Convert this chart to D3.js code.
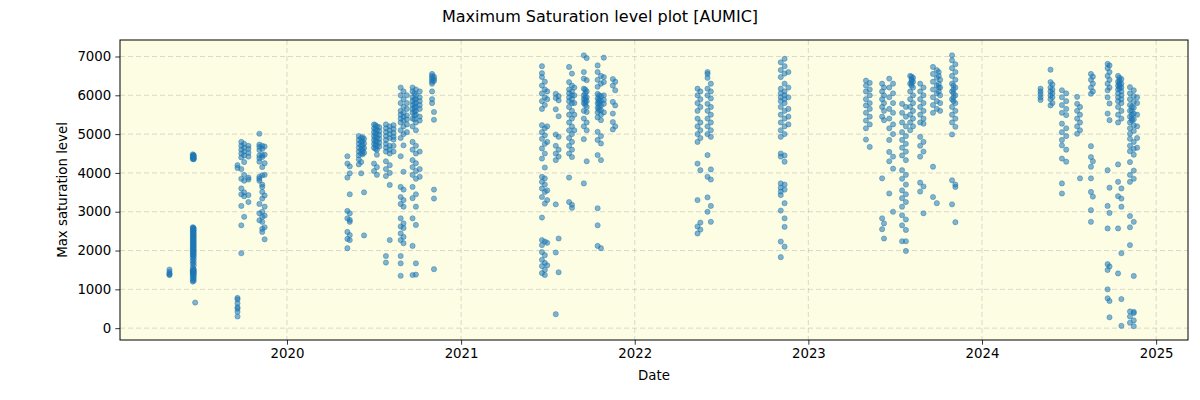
<!DOCTYPE html>
<html><head><meta charset="utf-8">
<script src="https://cdn.jsdelivr.net/npm/d3@7"></script>
<style>body{margin:0;background:#fff} svg{display:block} text{font-family:"DejaVu Sans",sans-serif;fill:#000}</style>
</head><body><svg id="c" width="1200" height="400"></svg>
<script>
// ---- data: [observation date, max saturation levels] ----
const season2019 = [
  ["2019-04-29", [1510, 1450, 1410, 1380, 1370]],
  ["2019-06-17", [4360, 4400, 4440, 4480, 2600, 2540, 2480, 2420, 2360, 2300, 2240, 2180, 2120, 2060, 2000, 1940, 1880, 1820, 1740, 1660, 1560, 1490, 1450, 1410, 1370, 1310, 1250, 1200]],
  ["2019-06-18", [4410, 4450, 4370, 2590, 2550, 2500, 2440, 2380, 2320, 2260, 2200, 2140, 2080, 2020, 1960, 1900, 1470, 1440, 1420, 1460, 1500]],
  ["2019-06-19", [4380, 4420, 4460, 4350, 2570, 2510, 2450, 2390, 2330, 2270, 2210, 2150, 2090, 2030, 1970, 1910, 1850, 1780, 1700, 1620, 1520, 1470, 1430, 1390, 1340, 1280, 1220]],
  ["2019-06-22", [660]],
  ["2019-09-19", [780, 740, 640, 540, 500, 420, 300, 4200, 4130]],
  ["2019-09-27", [4800, 4700, 4600, 4500, 4400, 4100, 3850, 3600, 3450, 3150, 2650, 1930]],
  ["2019-10-03", [4750, 4650, 4550, 4450, 4280, 3950, 3800, 3500, 3400, 2870]],
  ["2019-10-12", [4700, 4620, 4520, 4420, 3880, 3830, 3250, 3430]],
  ["2019-11-04", [5010, 4730, 4670, 4590, 4450, 4380, 4290, 3900, 3850, 3800, 3200, 2960, 2780]],
  ["2019-11-10", [4700, 4620, 4460, 4410, 4150, 3940, 3700, 3640, 3510, 3340, 3000, 2870, 2740, 2560, 2480]],
  ["2019-11-15", [4680, 4470, 4250, 3950, 3420, 3130, 2900, 2600, 2290]]
];
const season2020 = [
  ["2020-05-07", [4430, 4240, 3880, 3020, 2830, 2480, 2300, 2060]],
  ["2020-05-12", [4170, 3990, 3450, 2960, 2790, 2740, 2400, 2270]],
  ["2020-05-31", [4950, 4850, 4750, 4650, 4550, 4450, 4350, 4220]],
  ["2020-06-05", [4900, 4800, 4700, 4600, 4500, 4280, 3990]],
  ["2020-06-08", [4920, 4820, 4720, 4620, 4560, 4480]],
  ["2020-06-11", [4880, 4760, 4640, 4520, 3500, 2390]],
  ["2020-07-02", [5250, 5150, 5050, 4950, 4850, 4750, 4650, 4240, 4050]],
  ["2020-07-05", [5230, 5130, 5020, 4920, 4820, 4720, 4620]],
  ["2020-07-08", [5200, 5100, 5000, 4900, 4800, 4700, 4600, 4470, 4150, 3950]],
  ["2020-07-13", [5180, 5080, 4980, 4880, 4780, 4680]],
  ["2020-07-27", [5250, 5150, 5050, 4950, 4850, 4750, 4650, 4550, 4300, 4100, 3920, 1860, 1690]],
  ["2020-08-04", [5200, 5100, 5000, 4900, 4700, 4600, 4500, 4200, 4000, 3690, 2270]],
  ["2020-08-12", [5230, 5130, 5030, 4930, 4860, 4700, 4550]],
  ["2020-08-27", [6200, 6000, 5800, 5600, 5500, 5400, 5300, 5100, 4900, 4430, 3640, 3380, 3200, 2830, 2620, 2440, 2270, 1860, 1670, 1350]],
  ["2020-09-02", [6100, 5900, 5700, 5550, 5450, 5350, 5200, 5000, 4710, 4030, 3570, 3300, 3130, 2700, 2580, 2350, 2190]],
  ["2020-09-09", [6000, 5800, 5650, 5480, 5380, 5250, 5050]],
  ["2020-09-21", [6200, 6100, 5950, 5850, 5750, 5650, 5550, 5400, 5200, 4800, 4600, 4330, 4150, 3950, 3640, 3350, 2830, 2120, 1370]],
  ["2020-09-25", [6050, 5900, 5780, 5680, 5580, 5480, 5380]],
  ["2020-09-28", [6150, 6000, 5900, 5800, 5700, 5600, 5500, 5300, 5100, 4700, 4500, 4250, 4050, 3850, 3450, 3130, 2660, 1670, 1380]],
  ["2020-10-06", [6100, 5950, 5850, 5750, 5650, 5450, 5350, 4550, 4100, 3900]],
  ["2020-11-01", [6550, 6500, 6450, 6400, 6350, 6300, 6100, 5900, 5800]],
  ["2020-11-05", [6480, 6420, 6370, 5570, 5370, 3570, 3340, 1520]]
];
const season2021 = [
  ["2021-06-20", [6750, 6570, 6470, 6250, 6050, 5850, 5650, 5230, 5050, 4880, 4630, 4370, 3900, 3770, 3600, 3380, 2850, 2270, 2140, 1960, 1760, 1600, 1420]],
  ["2021-06-26", [6350, 6150, 5950, 5750, 5150, 4970, 4750, 4500, 4140, 3860, 3700, 3510, 3210, 2230, 1880, 1680, 1500, 1370]],
  ["2021-07-01", [6100, 5900, 5200, 4800, 3550, 3300, 1620, 2200]],
  ["2021-07-19", [6040, 5930, 5640, 4990, 4700, 4500, 4330, 3190, 1950, 360]],
  ["2021-07-25", [5980, 5870, 5460, 4930, 4600, 4420, 2310, 1440]],
  ["2021-08-16", [6730, 6340, 6150, 6050, 5950, 5850, 5700, 5500, 5300, 5100, 4900, 4700, 4500, 3880, 3250]],
  ["2021-08-22", [6560, 6250, 6100, 6000, 5900, 5800, 5600, 5400, 5200, 5000, 4800, 4600, 4410, 3180, 3100]],
  ["2021-08-27", [6200, 6000, 5800, 5500, 5100]],
  ["2021-09-16", [7030, 6600, 6430, 6170, 6000, 5900, 5800, 5600, 5400, 5200, 4870, 3730]],
  ["2021-09-19", [6150, 6050, 5950, 5880, 5820, 5750]],
  ["2021-09-22", [6960, 6390, 6100, 5950, 5850, 5700, 5570, 5300, 5100, 4300]],
  ["2021-10-15", [6770, 6600, 6400, 6220, 6040, 5920, 5800, 5680, 5560, 5430, 5060, 4850, 4460, 3090, 2650, 2120]],
  ["2021-10-18", [6000, 5900, 5850, 5780, 5700, 5620]],
  ["2021-10-22", [6500, 6300, 5980, 5860, 5740, 5620, 5500, 5360, 4950, 4760, 4330, 2060]],
  ["2021-10-28", [6970, 6470, 6340, 6000, 5880, 5780, 5560]],
  ["2021-11-16", [6420, 6250, 5830, 5530, 5310, 5120]],
  ["2021-11-21", [6350, 6130, 5740, 5200]]
];
const season2022 = [
  ["2022-05-13", [6170, 6000, 5800, 5600, 5400, 5200, 5000, 4800, 4240, 3300, 2620, 2440]],
  ["2022-05-19", [6100, 5900, 5700, 5300, 5100, 4900, 4070, 2720, 2540]],
  ["2022-06-03", [6600, 6550, 6450, 6170, 6000, 5780, 5600, 5400, 5200, 5000, 4460, 3900, 3370, 3000]],
  ["2022-06-10", [6300, 6100, 5920, 5700, 5500, 5300, 5100, 4930, 4090, 3830, 3150, 2740]],
  ["2022-11-04", [6850, 6650, 6470, 6170, 6050, 5950, 5850, 5700, 5500, 5300, 5100, 4930, 4500, 4420, 3730, 3620, 3520, 3430, 3030, 2230, 1830]],
  ["2022-11-12", [6940, 6750, 6560, 6300, 6100, 6000, 5900, 5800, 5600, 5400, 5200, 5000, 4450, 4290, 3700, 3570, 3220, 2830, 2610, 2100]],
  ["2022-11-20", [6600, 6200, 5950, 5650, 5450, 5250]]
];
const season2023 = [
  ["2023-05-02", [6380, 6250, 6100, 5900, 5740, 5550, 5350, 5150, 4860]],
  ["2023-05-10", [6320, 6150, 6000, 5800, 5650, 5450, 5250, 4670]],
  ["2023-06-05", [6300, 6100, 5900, 5700, 5450, 3860, 2830, 2550]],
  ["2023-06-09", [6200, 6000, 5800, 5600, 5360, 2700, 2310]],
  ["2023-06-20", [6430, 6200, 5950, 5650, 5400, 5150, 4850, 4540, 4300, 3470]],
  ["2023-06-28", [6300, 6050, 5800, 5550, 5250, 5000, 4420, 4110, 3000]],
  ["2023-07-17", [5780, 5550, 5300, 5050, 4850, 4650, 4450, 4070, 3850, 3550, 3350, 3130, 2910, 2650, 2240]],
  ["2023-07-25", [5700, 5450, 5200, 4950, 4750, 4550, 4330, 3950, 3700, 3450, 3250, 2800, 2530, 1990, 2240]],
  ["2023-08-03", [6500, 6300, 6100, 5900, 5700, 5500, 5300, 5100]],
  ["2023-08-06", [6480, 6420, 6380, 6320, 6250]],
  ["2023-08-09", [6450, 6350, 6200, 6000, 5800, 5600, 5400, 5200]],
  ["2023-08-24", [6300, 6100, 5900, 5700, 5500, 5300, 4930, 4700, 4420, 3750, 3520]],
  ["2023-08-31", [6200, 6000, 5800, 5600, 5400, 5270, 4800, 4550, 3650, 2960]],
  ["2023-09-20", [6730, 6550, 6350, 6150, 5950, 5750, 5550, 4160, 3380]],
  ["2023-09-28", [6650, 6450, 6250, 6050, 5850, 5650, 3220]],
  ["2023-10-02", [6600, 6500, 6300, 6200, 6100]],
  ["2023-10-05", [6400, 6200, 6000, 5800, 5600]],
  ["2023-10-30", [7030, 6900, 6700, 6500, 6300, 6100, 5900, 5700, 5500, 5300, 4990, 3810, 3190]],
  ["2023-11-02", [6250, 6150, 6050, 5950, 5850]],
  ["2023-11-06", [6800, 6600, 6400, 6200, 6000, 5800, 5600, 5400, 5190, 3700, 3640, 2730]]
];
const season2024 = [
  ["2024-05-03", [6170, 6100, 6030, 5950, 5880]],
  ["2024-05-24", [6660, 6340, 6200, 6100, 6000, 5900, 5740]],
  ["2024-05-28", [6280, 6150, 6050, 5950, 5800]],
  ["2024-06-17", [6130, 5950, 5750, 5550, 5270, 5050, 4850, 4710, 4370, 3730, 3470]],
  ["2024-06-26", [6050, 5850, 5650, 5490, 5150, 4950, 4600, 4290]],
  ["2024-07-19", [5960, 5780, 5600, 5400, 5200, 5010]],
  ["2024-07-25", [5700, 5500, 5300, 5100, 3860]],
  ["2024-08-17", [6550, 6400, 6200, 6040, 4690, 4410, 4160, 3860, 3510, 3040, 2740]],
  ["2024-08-21", [6480, 6300, 6100, 4300, 3390]],
  ["2024-09-21", [6810, 6700, 6500, 6300, 6130, 5950, 5530, 4070, 3150, 2570, 1650, 1500, 1000, 770]],
  ["2024-09-25", [6770, 6600, 6400, 6200, 5790, 5360, 3620, 2970, 1590, 700, 280]],
  ["2024-10-13", [6500, 6350, 6250, 6150, 6050, 5950, 5850, 5700, 5500, 5300, 4220, 3770, 3400, 2570, 1410]],
  ["2024-10-16", [6450, 6380, 6320, 6270, 6220, 6180]],
  ["2024-10-20", [6420, 6300, 6200, 6100, 6000, 5900, 5800, 5600, 5400, 3600, 3340, 3130, 1930, 750, 60]],
  ["2024-11-07", [6210, 6050, 5900, 5750, 5600, 5450, 5300, 5150, 5010, 4880, 4700, 4560, 4280, 3950, 3770, 2890, 2600, 2140, 430, 300, 140]],
  ["2024-11-11", [5700, 5600, 5500, 5400, 5350]],
  ["2024-11-15", [6130, 5980, 5830, 5680, 5530, 5380, 5230, 5080, 4800, 4620, 4470, 4060, 3850, 2740, 1345, 420, 390, 200, 50]],
  ["2024-11-22", [5950, 5800, 5500, 5200, 4900, 4650]]
];
const xTickDates = ["2020-01-01", "2021-01-01", "2022-01-01", "2023-01-01", "2024-01-01", "2025-01-01"];
const yTickValues = [0, 1000, 2000, 3000, 4000, 5000, 6000, 7000];
const titleText = "Maximum Saturation level plot [AUMIC]";
const xLabel = "Date";
const yLabel = "Max saturation level";

// ---- chart ----
const parse = d3.utcParse("%Y-%m-%d");
const seasons = [season2019, season2020, season2021, season2022, season2023, season2024];
const points = seasons.flatMap(s => s.flatMap(([d, vals]) => vals.map(v => ({date: parse(d), value: v}))));

const L = 120, R = 1188, T = 40, B = 340;
const x = d3.scaleUtc().domain([parse("2019-01-15"), parse("2025-03-09")]).range([L, R]);
const y = d3.scaleLinear().domain([-305, 7425]).range([B, T]);

const svg = d3.select("#c");
svg.append("rect").attr("width", 1200).attr("height", 400).attr("fill", "#fff");
svg.append("rect").attr("x", L).attr("y", T).attr("width", R - L).attr("height", B - T).attr("fill", "#fdfde3");

const xt = xTickDates.map(parse);
const grid = svg.append("g").attr("stroke", "#b0b0b0").attr("stroke-opacity", 0.6)
  .attr("stroke-width", 0.8).attr("stroke-dasharray", "5,3");
grid.selectAll("line.gx").data(xt).join("line").attr("class", "gx")
  .attr("x1", d => x(d)).attr("x2", d => x(d)).attr("y1", T).attr("y2", B);
grid.selectAll("line.gy").data(yTickValues).join("line").attr("class", "gy")
  .attr("x1", L).attr("x2", R).attr("y1", d => y(d)).attr("y2", d => y(d));

svg.append("g").selectAll("circle").data(points).join("circle")
  .attr("cx", d => x(d.date)).attr("cy", d => y(d.value)).attr("r", 2.6)
  .attr("fill", "#1f77b4").attr("fill-opacity", 0.55)
  .attr("stroke", "#1f77b4").attr("stroke-opacity", 0.55).attr("stroke-width", 0.8);

svg.append("rect").attr("x", L).attr("y", T).attr("width", R - L).attr("height", B - T)
  .attr("fill", "none").attr("stroke", "#000").attr("stroke-width", 1);

const fs = "13.33px";
const xAxis = svg.append("g").attr("transform", `translate(0,${B})`)
  .call(d3.axisBottom(x).tickValues(xt).tickFormat(d3.utcFormat("%Y")).tickSize(4.7).tickSizeOuter(0).tickPadding(4));
const yAxis = svg.append("g").attr("transform", `translate(${L},0)`)
  .call(d3.axisLeft(y).tickValues(yTickValues).tickFormat(d3.format("d")).tickSize(4.7).tickSizeOuter(0).tickPadding(4));
[xAxis, yAxis].forEach(a => {
  a.select(".domain").remove();
  a.selectAll("text").attr("font-family", "DejaVu Sans").attr("font-size", fs).attr("fill", "#000");
  a.selectAll("line").attr("stroke", "#000").attr("stroke-width", 0.8);
});

svg.append("text").attr("x", 600).attr("y", 22).attr("text-anchor", "middle")
  .attr("font-size", "16px").text(titleText);
svg.append("text").attr("x", (L + R) / 2).attr("y", 380).attr("text-anchor", "middle")
  .attr("font-size", fs).text(xLabel);
svg.append("text").attr("transform", `translate(67,${(T + B) / 2}) rotate(-90)`).attr("text-anchor", "middle")
  .attr("font-size", fs).text(yLabel);
</script></body></html>
